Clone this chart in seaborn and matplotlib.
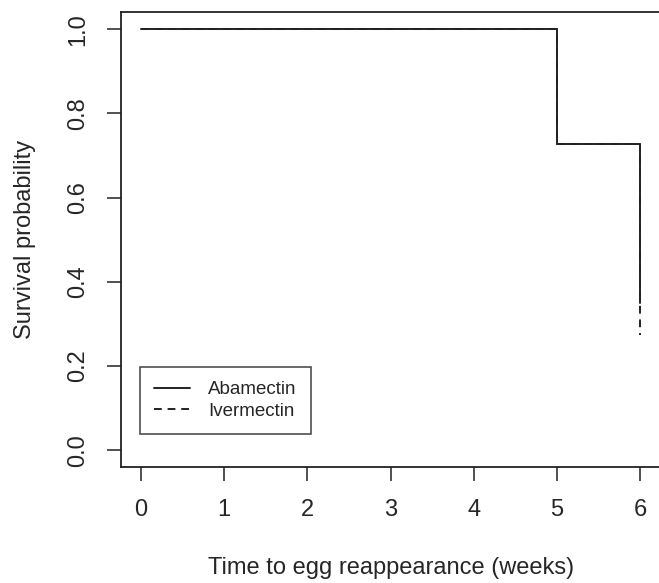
import pandas as pd
import seaborn as sns
import matplotlib.pyplot as plt

# Kaplan-Meier style step data
aba_time = [0, 5, 6]
aba_surv = [1.0, 0.727, 0.35]
iver_time = [0, 5, 6]
iver_surv = [1.0, 0.727, 0.273]
x_ticks = [0, 1, 2, 3, 4, 5, 6]
y_ticks = [0.0, 0.2, 0.4, 0.6, 0.8, 1.0]

sns.set_style("white")
plt.rcParams['font.family'] = ['Liberation Sans', 'DejaVu Sans']

aba = pd.DataFrame({'time': aba_time, 'surv': aba_surv})
iver = pd.DataFrame({'time': iver_time, 'surv': iver_surv})

fig = plt.figure(figsize=(6.59, 5.83), dpi=100)
ax = fig.add_axes([0.1836, 0.199, 0.8185, 0.7796])

sns.lineplot(data=iver, x='time', y='surv', ax=ax, color='#222222', lw=1.4,
             drawstyle='steps-post', linestyle=(0, (4, 3)), label='Ivermectin')
sns.lineplot(data=aba, x='time', y='surv', ax=ax, color='#222222', lw=1.4,
             drawstyle='steps-post', label='Abamectin')

ax.set_xlim(-0.24, 6.24)
ax.set_ylim(-0.04, 1.04)
ax.set_xticks(x_ticks)
ax.set_yticks(y_ticks)
ax.set_yticklabels([f"{v:.1f}" for v in y_ticks], rotation=90, va='center')
ax.tick_params(axis='both', direction='out', length=10, width=1.2, labelsize=17,
               color='#333333', left=True, bottom=True)
ax.tick_params(axis='x', pad=13)
ax.tick_params(axis='y', pad=13)
for s in ax.spines.values():
    s.set_color('#222222')
    s.set_linewidth(1.3)

ax.set_xlabel('Time to egg reappearance (weeks)', fontsize=17, labelpad=26)
ax.set_ylabel('Survival probability', fontsize=17, labelpad=22)

handles, labels = ax.get_legend_handles_labels()
leg = ax.legend(handles[::-1], labels[::-1], loc='lower left',
                bbox_to_anchor=(0.035, 0.0726), borderaxespad=0, fontsize=13.5,
                frameon=True, fancybox=False, edgecolor='#222222',
                handlelength=1.9, handletextpad=1.0, borderpad=0.75, labelspacing=0.25)
leg.get_frame().set_linewidth(1.2)

fig.savefig('out.png', dpi=100)
